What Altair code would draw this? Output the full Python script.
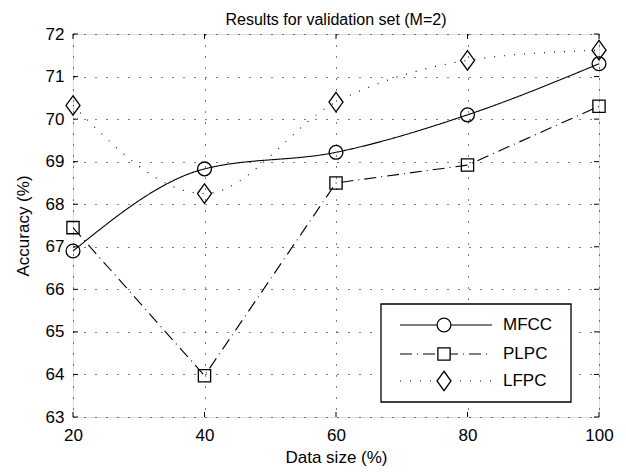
import altair as alt
import pandas as pd

# ---- data ----
data_size = [20, 40, 60, 80, 100]
mfcc = [66.9, 68.83, 69.22, 70.1, 71.3]
plpc = [67.45, 63.97, 68.5, 68.92, 70.3]
lfpc = [70.32, 68.25, 70.4, 71.38, 71.62]
series_names = ["MFCC", "PLPC", "LFPC"]
x_ticks = [20, 40, 60, 80, 100]
y_ticks = [63, 64, 65, 66, 67, 68, 69, 70, 71, 72]

W, H = 526, 383
FONT = "Liberation Sans"
FS = 17

rows = []
for name, vals in zip(series_names, [mfcc, plpc, lfpc]):
    for xv, yv in zip(data_size, vals):
        rows.append({"size": xv, "acc": yv, "series": name})
df = pd.DataFrame(rows)

xs = alt.Scale(domain=[20, 100], nice=False, zero=False)
ys = alt.Scale(domain=[63, 72], nice=False, zero=False)

dashes = {"MFCC": [1, 0], "PLPC": [12, 5, 1, 5], "LFPC": [1, 9]}
interp = {"MFCC": "monotone", "PLPC": "linear", "LFPC": "monotone"}
shapes = {
    "MFCC": "circle",
    "PLPC": "square",
    "LFPC": "M0,-1L0.72,0L0,1L-0.72,0Z",
}
sizes = {"MFCC": 190, "PLPC": 150, "LFPC": 380}

base = alt.Chart(df)

axis_common = dict(grid=True, gridDash=[1, 10], gridColor="black", gridOpacity=1,
                   domain=False, ticks=False, labelFontSize=FS, titleFontSize=FS,
                   titleFontWeight="normal", labelFont=FONT, titleFont=FONT,
                   labelColor="black", titleColor="black", labelFlush=False)

axis_layer = base.mark_point(opacity=0).encode(
    x=alt.X("size:Q", scale=xs,
            axis=alt.Axis(values=x_ticks, title="Data size (%)", labelPadding=10,
                          titlePadding=6, **axis_common)),
    y=alt.Y("acc:Q", scale=ys,
            axis=alt.Axis(values=y_ticks, title="Accuracy (%)", labelPadding=9,
                          titlePadding=13, **axis_common)),
)

layers = [axis_layer]

# inward ticks on all four sides
xt = pd.DataFrame({"t": x_ticks})
yt = pd.DataFrame({"t": y_ticks})
for y0, y1 in [(H, H - 5), (0, 5)]:
    layers.append(alt.Chart(xt).mark_rule(color="black", strokeWidth=1).encode(
        x=alt.X("t:Q", scale=xs), y=alt.value(y0), y2=alt.value(y1)))
for x0, x1 in [(0, 5), (W, W - 5)]:
    layers.append(alt.Chart(yt).mark_rule(color="black", strokeWidth=1).encode(
        y=alt.Y("t:Q", scale=ys), x=alt.value(x0), x2=alt.value(x1)))

for name in series_names:
    sub = base.transform_filter(alt.datum.series == name)
    layers.append(sub.mark_line(color="black", strokeWidth=1.1,
                                strokeDash=dashes[name], interpolate=interp[name]).encode(
        x=alt.X("size:Q", scale=xs), y=alt.Y("acc:Q", scale=ys)))
    layers.append(sub.mark_point(shape=shapes[name], size=sizes[name], filled=False,
                                 color="black", strokeWidth=1.3, opacity=1).encode(
        x=alt.X("size:Q", scale=xs), y=alt.Y("acc:Q", scale=ys)))

# legend box (drawn inside the plot area)
LX0, LX1, LY0, LY1 = 308, 498, 270, 368
layers.append(alt.Chart(pd.DataFrame({"a": [0]})).mark_rect(
    fill="white", stroke="black", strokeWidth=1.3).encode(
    x=alt.value(LX0), x2=alt.value(LX1), y=alt.value(LY0), y2=alt.value(LY1)))

row_y = [291, 320, 347]
for name, ry in zip(series_names, row_y):
    one = alt.Chart(pd.DataFrame({"series": [name]}))
    layers.append(one.mark_rule(color="black", strokeWidth=1.1,
                                strokeDash=dashes[name]).encode(
        x=alt.value(327), x2=alt.value(419), y=alt.value(ry)))
    layers.append(one.mark_point(shape=shapes[name], size=sizes[name], filled=True,
                                 fill="white", stroke="black", strokeWidth=1.3,
                                 opacity=1).encode(
        x=alt.value(371), y=alt.value(ry)))
    layers.append(one.mark_text(align="left", baseline="middle", fontSize=FS,
                                font=FONT, color="black").encode(
        x=alt.value(430), y=alt.value(ry), text="series:N"))

chart = alt.layer(*layers).properties(
    width=W, height=H,
    title=alt.Title("Results for validation set (M=2)", fontSize=16,
                    fontWeight="normal", font=FONT, color="black", offset=-3),
    autosize=alt.AutoSizeParams(type="none"),
    padding={"left": 65, "top": 26, "right": 19, "bottom": 50},
).configure_view(stroke="black", strokeWidth=1.6).configure(background="white")

chart.save("out.html", embed_options={"renderer": "svg", "actions": False})
